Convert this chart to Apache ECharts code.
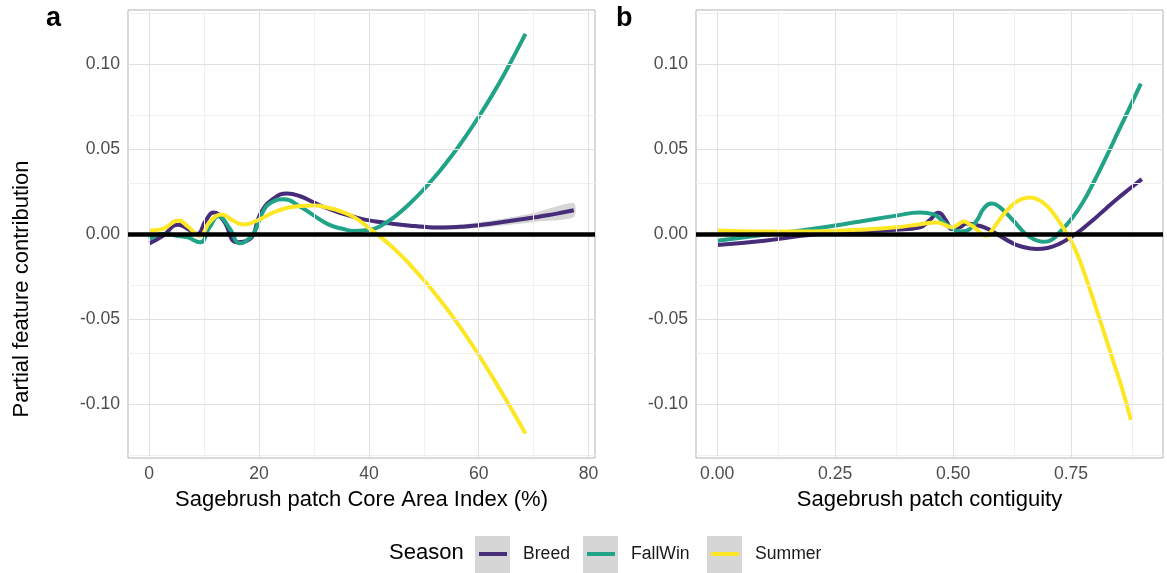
<!DOCTYPE html>
<html>
<head>
<meta charset="utf-8">
<script src="https://cdn.jsdelivr.net/npm/echarts@6/dist/echarts.min.js"></script>
<style>
  html, body { margin: 0; padding: 0; background: #ffffff; }
  #chart { width: 1167px; height: 573px; }
</style>
</head>
<body>
<div id="chart"></div>
<script>
// Seasons and their colours
const seasons = ['Breed', 'FallWin', 'Summer'];
const seasonColors = ['#472C7A', '#20A386', '#FDE725'];

// Panel a: Sagebrush patch Core Area Index (%)
const caiBreedX = [0, 2.5, 5.3, 7, 8.7, 10.3, 11.7, 13.5, 16, 18.4, 20.2, 22.5, 25.1, 27.5, 30, 32.5, 35, 37.5, 40, 42.5, 45, 47.5, 50, 52.5, 55, 57.5, 60, 62.5, 65, 67.5, 70, 72.5, 75, 77.3];
const caiBreedY = [-0.0055, -0.001, 0.0055, 0.003, 0.0, 0.008, 0.0127, 0.008, -0.0049, -0.0028, 0.0117, 0.0205, 0.0238, 0.0222, 0.0185, 0.015, 0.0122, 0.0099, 0.008, 0.0068, 0.0057, 0.0049, 0.0042, 0.0038, 0.0039, 0.0044, 0.0052, 0.0062, 0.0073, 0.0085, 0.0097, 0.011, 0.0125, 0.014];

const caiFallX = [0, 2.5, 5, 7, 9.2, 11, 12.6, 14.5, 16.6, 18.4, 19.3, 20.8, 22.5, 24.5, 27.5, 30, 32.5, 35, 37.5, 40, 42.5, 45, 47.5, 50, 52.5, 55, 57.5, 60, 62.5, 65, 67.5, 68.5];
const caiFallY = [-0.003, 0.0, -0.001, -0.002, -0.0049, 0.004, 0.0105, 0.004, -0.0055, -0.002, 0.002, 0.0137, 0.019, 0.0205, 0.016, 0.0108, 0.0058, 0.0032, 0.0018, 0.0023, 0.0055, 0.011, 0.0181, 0.0263, 0.0355, 0.0457, 0.0569, 0.069, 0.082, 0.0962, 0.1114, 0.1177];

const caiSummerX = [0, 2.5, 5.3, 7, 9.2, 11, 13.2, 15.2, 17.2, 20, 22.5, 25, 27.5, 30, 32.5, 35, 37.5, 40, 42.5, 45, 47.5, 50, 52.5, 55, 57.5, 60, 62.5, 65, 67.5, 68.5];
const caiSummerY = [0.002, 0.003, 0.008, 0.0045, -0.001, 0.007, 0.0115, 0.008, 0.0056, 0.0085, 0.0125, 0.0153, 0.0165, 0.0167, 0.0155, 0.0132, 0.0095, 0.0035, -0.0027, -0.0099, -0.0181, -0.0271, -0.0369, -0.0475, -0.0589, -0.0712, -0.0842, -0.0977, -0.1117, -0.1174];

// Standard-error band around the Breed curve in panel a
const caiBandX = [40, 46, 52, 58, 64, 70, 77.3];
const caiBandLow = [0.007, 0.0042, 0.0026, 0.0030, 0.0048, 0.0071, 0.0098];
const caiBandHigh = [0.009, 0.0064, 0.0050, 0.0060, 0.0088, 0.0123, 0.0182];

// Panel b: Sagebrush patch contiguity
const conBreedX = [0, 0.1, 0.2, 0.3, 0.38, 0.43, 0.45, 0.469, 0.485, 0.497, 0.515, 0.529, 0.545, 0.57, 0.593, 0.62, 0.643, 0.677, 0.7, 0.725, 0.75, 0.775, 0.8, 0.825, 0.85, 0.875, 0.9];
const conBreedY = [-0.0065, -0.004, -0.0005, 0.0015, 0.0025, 0.004, 0.008, 0.0125, 0.008, 0.003, 0.004, 0.0062, 0.0055, 0.0035, 0.0, -0.0045, -0.0072, -0.0088, -0.0082, -0.0058, -0.0018, 0.0032, 0.009, 0.0152, 0.0212, 0.0268, 0.0323];

const conFallX = [0, 0.1, 0.2, 0.3, 0.38, 0.43, 0.458, 0.478, 0.494, 0.515, 0.529, 0.55, 0.565, 0.582, 0.6, 0.628, 0.65, 0.67, 0.69, 0.71, 0.725, 0.75, 0.775, 0.8, 0.825, 0.85, 0.875, 0.898];
const conFallY = [-0.004, -0.0005, 0.003, 0.0072, 0.0108, 0.0127, 0.0117, 0.0075, 0.0039, 0.0015, 0.002, 0.0078, 0.015, 0.018, 0.0155, 0.0078, 0.001, -0.0029, -0.0045, -0.0032, 0.0008, 0.0085, 0.0185, 0.0315, 0.0455, 0.0602, 0.0748, 0.0885];

const conSummerX = [0, 0.1, 0.2, 0.3, 0.38, 0.43, 0.465, 0.485, 0.497, 0.51, 0.522, 0.535, 0.547, 0.57, 0.582, 0.592, 0.61, 0.628, 0.645, 0.663, 0.68, 0.7, 0.72, 0.74, 0.76, 0.78, 0.8, 0.82, 0.84, 0.86, 0.877];
const conSummerY = [0.002, 0.0015, 0.0015, 0.0025, 0.004, 0.0058, 0.0068, 0.005, 0.0039, 0.0055, 0.0074, 0.0058, 0.0035, -0.001, 0.002, 0.0059, 0.0125, 0.0176, 0.0205, 0.0215, 0.0203, 0.0163, 0.0093, 0.0008, -0.0098, -0.0245, -0.041, -0.058, -0.0752, -0.0925, -0.1095];

// Axis ticks and gridlines
const caiTicks = [0, 20, 40, 60, 80];
const caiMinor = [10, 30, 50, 70];
const conTicks = [0, 0.25, 0.5, 0.75];
const conMinor = [0.125, 0.375, 0.625, 0.875];
const yTicks = [-0.1, -0.05, 0, 0.05, 0.1];
const yMinor = [-0.125, -0.075, -0.025, 0.025, 0.075, 0.125];

const FONT = '"Liberation Sans", Arial, Helvetica, sans-serif';
const zip = (xs, ys) => xs.map((x, i) => [x, ys[i]]);

const chart = echarts.init(document.getElementById('chart'), null, { renderer: 'canvas' });

const grids = [
  { left: 128, top: 10, width: 467, height: 448 },
  { left: 696, top: 10, width: 467, height: 448 }
].map(g => Object.assign(g, { show: true, borderColor: '#B3B3B3', borderWidth: 1, backgroundColor: 'transparent' }));

function xAxis(gridIndex, min, max, ticks, fmt, title) {
  return {
    type: 'value', gridIndex, min, max,
    axisLine: { show: false },
    splitLine: { show: false },
    axisTick: { show: true, customValues: ticks, length: 4, lineStyle: { color: '#B3B3B3' } },
    axisLabel: { customValues: ticks, formatter: fmt, color: '#4D4D4D', fontSize: 17.6, fontFamily: FONT, margin: 7 },
    name: title, nameLocation: 'middle', nameGap: 31,
    nameTextStyle: { fontSize: 22, color: '#000000', fontFamily: FONT }
  };
}
function yAxis(gridIndex) {
  return {
    type: 'value', gridIndex, min: -0.1318, max: 0.1318,
    axisLine: { show: false },
    splitLine: { show: false },
    axisTick: { show: true, customValues: yTicks, length: 4, lineStyle: { color: '#B3B3B3' } },
    axisLabel: { customValues: yTicks, formatter: v => v.toFixed(2), color: '#4D4D4D', fontSize: 17.6, fontFamily: FONT, margin: 8 }
  };
}

function gridLineSeries(gi, xMajor, xMinor) {
  const minorStyle = { color: '#F0F0F0', width: 1, type: 'solid' };
  const majorStyle = { color: '#E0E0E0', width: 1, type: 'solid' };
  const data = []
    .concat(xMinor.map(v => ({ xAxis: v, lineStyle: minorStyle })))
    .concat(yMinor.map(v => ({ yAxis: v, lineStyle: minorStyle })))
    .concat(xMajor.map(v => ({ xAxis: v, lineStyle: majorStyle })))
    .concat(yTicks.map(v => ({ yAxis: v, lineStyle: majorStyle })));
  return {
    type: 'line', xAxisIndex: gi, yAxisIndex: gi, data: [], z: 1, silent: true,
    markLine: { silent: true, symbol: ['none', 'none'], label: { show: false }, animation: false, data }
  };
}
function zeroLineSeries(gi) {
  return {
    type: 'line', xAxisIndex: gi, yAxisIndex: gi, data: [], z: 2, silent: true,
    markLine: {
      silent: true, symbol: ['none', 'none'], label: { show: false }, animation: false,
      data: [{ yAxis: 0, lineStyle: { color: '#000000', width: 4.5, type: 'solid' } }]
    }
  };
}
function curve(gi, name, xs, ys, color) {
  return {
    type: 'line', name, xAxisIndex: gi, yAxisIndex: gi, data: zip(xs, ys),
    smooth: 0.5, showSymbol: false, symbol: 'none', z: 4, silent: true,
    lineStyle: { color, width: 4, cap: 'butt', join: 'round' },
    itemStyle: { color }
  };
}

// Ribbon drawn as one polygon through the axis scales: lower edge forward, upper edge back
const bandSeries = {
  type: 'custom', xAxisIndex: 0, yAxisIndex: 0, z: 3, silent: true,
  data: caiBandX.map((x, i) => [x, caiBandLow[i], caiBandHigh[i]]),
  encode: { x: 0, y: [1, 2] },
  renderItem: (params, api) => {
    if (params.dataIndex !== 0) return null;
    const lower = caiBandX.map((x, i) => api.coord([x, caiBandLow[i]]));
    const upper = caiBandX.map((x, i) => api.coord([x, caiBandHigh[i]])).reverse();
    return {
      type: 'polygon',
      shape: { points: lower.concat(upper), smooth: 0.25 },
      style: { fill: '#D6D6D6' }
    };
  }
};

const keyLeft = [475, 583, 707];

const option = {
  animation: false,
  backgroundColor: '#ffffff',
  textStyle: { fontFamily: FONT },
  grid: grids,
  xAxis: [
    xAxis(0, -3.87, 81.17, caiTicks, v => String(v), 'Sagebrush patch Core Area Index (%)'),
    xAxis(1, -0.045, 0.945, conTicks, v => v.toFixed(2), 'Sagebrush patch contiguity')
  ],
  yAxis: [yAxis(0), yAxis(1)],
  legend: seasons.map((s, i) => ({
    data: [s], left: keyLeft[i] + 4, top: 544, padding: 0,
    icon: 'rect', itemWidth: 28, itemHeight: 4, selectedMode: false,
    textStyle: { fontSize: 17.6, color: '#1A1A1A', fontFamily: FONT, padding: [0, 0, 0, 11], lineHeight: 20 }
  })),
  graphic: [
    ...keyLeft.map(x => ({ type: 'rect', left: x, top: 536, z: 0, shape: { width: 35, height: 37 }, style: { fill: '#D6D6D6' }, silent: true })),
    { type: 'text', left: 389, top: 542, style: { text: 'Season', fontSize: 22, fill: '#000000', fontFamily: FONT }, silent: true },
    { type: 'text', x: 22, y: 289, rotation: Math.PI / 2, style: { text: 'Partial feature contribution', fontSize: 22, fill: '#000000', fontFamily: FONT, align: 'center', verticalAlign: 'middle' }, silent: true },
    { type: 'text', left: 46, top: 5, style: { text: 'a', fontSize: 27, fontWeight: 'bold', fill: '#000000', fontFamily: FONT }, silent: true },
    { type: 'text', left: 616, top: 5, style: { text: 'b', fontSize: 27, fontWeight: 'bold', fill: '#000000', fontFamily: FONT }, silent: true }
  ],
  series: [
    gridLineSeries(0, caiTicks, caiMinor),
    gridLineSeries(1, conTicks, conMinor),
    zeroLineSeries(0),
    zeroLineSeries(1),
    bandSeries,
    curve(0, 'Breed', caiBreedX, caiBreedY, seasonColors[0]),
    curve(0, 'FallWin', caiFallX, caiFallY, seasonColors[1]),
    curve(0, 'Summer', caiSummerX, caiSummerY, seasonColors[2]),
    curve(1, 'Breed', conBreedX, conBreedY, seasonColors[0]),
    curve(1, 'FallWin', conFallX, conFallY, seasonColors[1]),
    curve(1, 'Summer', conSummerX, conSummerY, seasonColors[2])
  ]
};

chart.setOption(option);
</script>
</body>
</html>
